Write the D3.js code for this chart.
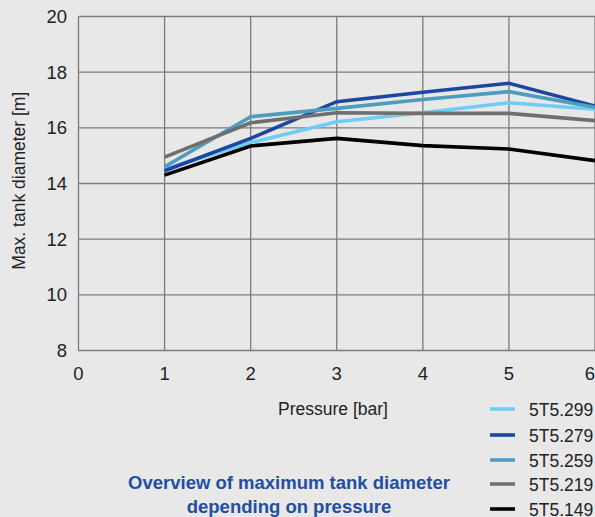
<!DOCTYPE html>
<html><head><meta charset="utf-8">
<script src="https://cdn.jsdelivr.net/npm/d3@7"></script>
<style>html,body{margin:0;padding:0;background:#e8e8e8;}svg{display:block;font-family:"Liberation Sans",Arial,sans-serif;}</style>
</head><body>
<script>
const pressures = [1, 2, 3, 4, 5, 6];
const seriesNames = ["5T5.299", "5T5.279", "5T5.259", "5T5.219", "5T5.149"];
const seriesColors = ["#6dcdf4", "#1b47a1", "#4d9dbd", "#6f6f6f", "#000000"];
const s299 = [14.52, 15.47, 16.22, 16.54, 16.9, 16.67];
const s279 = [14.46, 15.62, 16.94, 17.28, 17.6, 16.78];
const s259 = [14.6, 16.4, 16.7, 17.02, 17.3, 16.74];
const s219 = [14.95, 16.18, 16.54, 16.52, 16.52, 16.26];
const s149 = [14.3, 15.35, 15.62, 15.36, 15.24, 14.82];
const seriesValues = [s299, s279, s259, s219, s149];
const xTicks = [0, 1, 2, 3, 4, 5, 6];
const yTicks = [8, 10, 12, 14, 16, 18, 20];

const W = 595, H = 517;
const svg = d3.select("body").append("svg").attr("width", W).attr("height", H);
svg.append("rect").attr("width", W).attr("height", H).attr("fill", "#e8e8e8");

const x = d3.scaleLinear().domain([0, 6]).range([78.5, 595]);
const y = d3.scaleLinear().domain([8, 20]).range([350.5, 16.5]);

const grid = svg.append("g");
grid.selectAll("line.h").data(yTicks).join("line")
  .attr("x1", x(0)).attr("x2", x(6)).attr("y1", d => y(d)).attr("y2", d => y(d))
  .attr("stroke", "#7b7b7b").attr("stroke-width", 1.3);
grid.selectAll("line.v").data(xTicks).join("line")
  .attr("y1", y(8)).attr("y2", y(20)).attr("x1", d => x(d)).attr("x2", d => x(d))
  .attr("stroke", "#7b7b7b").attr("stroke-width", 1.3);

svg.append("g").selectAll("text").data(yTicks).join("text")
  .attr("x", 67).attr("y", d => y(d) + 6.5).attr("text-anchor", "end")
  .attr("font-size", 18.5).attr("fill", "#222").text(d => d);
svg.append("g").selectAll("text").data(xTicks).join("text")
  .attr("x", d => x(d)).attr("y", 380).attr("text-anchor", d => d === 6 ? "end" : "middle")
  .attr("font-size", 18.5).attr("fill", "#222").text(d => d);

svg.append("text").attr("transform", "translate(25," + y(14.1) + ") rotate(-90)")
  .attr("text-anchor", "middle").attr("font-size", 17.5).attr("fill", "#222")
  .text("Max. tank diameter [m]");
svg.append("text").attr("x", 333).attr("y", 415).attr("text-anchor", "middle")
  .attr("font-size", 17.5).attr("fill", "#222").text("Pressure [bar]");

const line = d3.line().x((d, i) => x(pressures[i])).y(d => y(d));
svg.append("g").selectAll("path").data(seriesValues).join("path")
  .attr("d", d => line(d)).attr("fill", "none")
  .attr("stroke", (d, i) => seriesColors[i]).attr("stroke-width", 3.6)
  .attr("stroke-linejoin", "miter");

const legY = [409, 435, 460, 484, 509];
const leg = svg.append("g").selectAll("g").data(seriesNames).join("g")
  .attr("transform", (d, i) => "translate(490," + legY[i] + ")");
leg.append("line").attr("x1", 0).attr("x2", 25).attr("y1", 0).attr("y2", 0)
  .attr("stroke", (d, i) => seriesColors[i]).attr("stroke-width", 3.6);
leg.append("text").attr("x", 39).attr("y", 6.5).attr("font-size", 17.5).attr("fill", "#222").text(d => d);

const title = svg.append("text").attr("text-anchor", "middle").attr("font-size", 18.5)
  .attr("font-weight", "bold").attr("fill", "#1f4ea3");
title.append("tspan").attr("x", 289).attr("y", 489).text("Overview of maximum tank diameter");
title.append("tspan").attr("x", 289).attr("y", 513).text("depending on pressure");
</script>
</body></html>
